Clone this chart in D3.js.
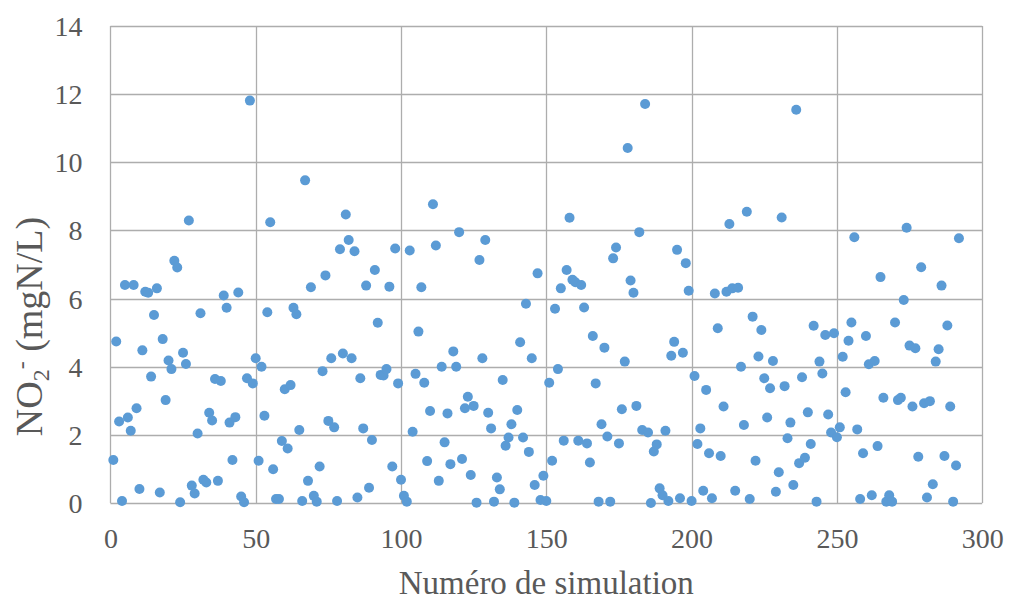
<!DOCTYPE html>
<html>
<head>
<meta charset="utf-8">
<script src="https://cdn.jsdelivr.net/npm/d3@7"></script>
<style>
  html, body { margin: 0; padding: 0; background: #ffffff; }
  svg { display: block; }
</style>
</head>
<body>
<svg id="chart" width="1011" height="601"></svg>
<script>
// ---- Data ----
const no2Values = [
  1.26, 4.74, 2.39, 0.06, 6.40, 2.51, 2.12, 6.40, 2.78, 0.41,
  4.48, 6.20, 6.17, 3.71, 5.52, 6.30, 0.31, 4.81, 3.02, 4.18,
  3.93, 7.11, 6.91, 0.02, 4.41, 4.08, 8.29, 0.51, 0.28, 2.04,
  5.57, 0.68, 0.60, 2.65, 2.42, 3.64, 0.65, 3.58, 6.09, 5.73,
  2.36, 1.26, 2.52, 6.18, 0.19, 0.02, 3.66, 11.81, 3.51, 4.25,
  1.24, 4.00, 2.56, 5.60, 8.24, 0.99, 0.12, 0.12, 1.82, 3.34,
  1.60, 3.46, 5.73, 5.54, 2.14, 0.06, 9.47, 0.65, 6.33, 0.21,
  0.04, 1.07, 3.87, 6.68, 2.41, 4.25, 2.22, 0.06, 7.45, 4.39,
  8.47, 7.72, 4.25, 7.39, 0.16, 3.66, 2.19, 6.38, 0.45, 1.85,
  6.84, 5.29, 3.76, 3.74, 3.93, 6.35, 1.07, 7.47, 3.51, 0.68,
  0.21, 0.04, 7.41, 2.09, 3.79, 5.03, 6.33, 3.53, 1.23, 2.70,
  8.77, 7.56, 0.65, 4.00, 1.78, 2.63, 1.14, 4.45, 4.00, 7.95,
  1.29, 2.78, 3.12, 0.82, 2.85, 0.01, 7.13, 4.25, 7.72, 2.65,
  2.19, 0.04, 0.75, 0.40, 3.61, 1.68, 1.92, 2.31, 0.01, 2.73,
  4.72, 1.92, 5.85, 1.50, 4.25, 0.53, 6.74, 0.09, 0.80, 0.06,
  3.53, 1.24, 5.70, 3.93, 6.30, 1.83, 6.84, 8.37, 6.55, 6.48,
  1.83, 6.40, 5.74, 1.75, 1.19, 4.90, 3.51, 0.04, 2.31, 4.56,
  1.95, 0.04, 7.18, 7.50, 1.75, 2.75, 4.15, 10.42, 6.53, 6.17,
  2.85, 7.95, 2.14, 11.71, 2.07, 0.00, 1.51, 1.72, 0.43, 0.23,
  2.12, 0.06, 4.32, 4.73, 7.43, 0.14, 4.41, 7.04, 6.23, 0.06,
  3.73, 1.73, 2.19, 0.36, 3.32, 1.46, 0.14, 6.15, 5.13, 1.38,
  2.83, 6.20, 8.19, 6.30, 0.36, 6.32, 4.00, 2.29, 8.55, 0.12,
  5.47, 1.24, 4.30, 5.08, 3.66, 2.51, 3.37, 4.17, 0.33, 0.90,
  8.38, 3.43, 1.90, 2.36, 0.53, 11.54, 1.17, 3.69, 1.33, 2.66,
  1.73, 5.20, 0.04, 4.15, 3.80, 4.93, 2.60, 2.07, 4.98, 1.93,
  2.22, 4.29, 3.25, 4.76, 5.30, 7.80, 2.16, 0.12, 1.46, 4.90,
  4.07, 0.23, 4.17, 1.67, 6.63, 3.09, 0.04, 0.23, 0.04, 5.30,
  3.02, 3.09, 5.96, 8.08, 4.62, 2.83, 4.54, 1.36, 6.92, 2.93,
  0.16, 2.99, 0.55, 4.15, 4.51, 6.38, 1.38, 5.21, 2.83, 0.04,
  1.10, 7.77
];
// simulation number of each value = its position in the run list (1-based)
const simulationNumbers = no2Values.map((v, i) => i + 1);

const xTickValues = [0, 50, 100, 150, 200, 250, 300];
const yTickValues = [0, 2, 4, 6, 8, 10, 12, 14];
const xDomain = [0, 300];
const yDomain = [0, 14];
const xTitle = "Numéro de simulation";

// ---- Layout ----
const margin = { left: 110.4, right: 1011 - 982.2, top: 26, bottom: 601 - 503 };
const W = 1011, H = 601;
const svg = d3.select("#chart");

const x = d3.scaleLinear().domain(xDomain).range([margin.left, W - margin.right]);
const y = d3.scaleLinear().domain(yDomain).range([H - margin.bottom, margin.top]);

const gridColor = "#ADADAD";
const textColor = "#595959";
const fontFam = "'Liberation Serif', 'Times New Roman', serif";

// Horizontal grid lines
svg.append("g")
  .selectAll("line")
  .data(yTickValues)
  .join("line")
  .attr("x1", x(xDomain[0]))
  .attr("x2", x(xDomain[1]))
  .attr("y1", d => Math.round(y(d)) + 0.5)
  .attr("y2", d => Math.round(y(d)) + 0.5)
  .attr("stroke", gridColor)
  .attr("stroke-width", 1.3);

// Vertical grid lines
svg.append("g")
  .selectAll("line")
  .data(xTickValues)
  .join("line")
  .attr("y1", y(yDomain[0]))
  .attr("y2", y(yDomain[1]))
  .attr("x1", d => Math.round(x(d)) + 0.5)
  .attr("x2", d => Math.round(x(d)) + 0.5)
  .attr("stroke", gridColor)
  .attr("stroke-width", 1.3);

// Axes (labels only)
const xAxis = d3.axisBottom(x).tickValues(xTickValues).tickSize(0).tickPadding(26);
const yAxis = d3.axisLeft(y).tickValues(yTickValues).tickSize(0).tickPadding(28);

const gx = svg.append("g")
  .attr("transform", `translate(0,${y(0)})`)
  .call(xAxis);
gx.select(".domain").remove();
gx.selectAll("text")
  .attr("font-family", fontFam)
  .attr("font-size", 28)
  .attr("fill", textColor)
  .attr("dy", "0.68em");

const gy = svg.append("g")
  .attr("transform", `translate(${x(0)},0)`)
  .call(yAxis);
gy.select(".domain").remove();
gy.selectAll("text")
  .attr("font-family", fontFam)
  .attr("font-size", 28)
  .attr("fill", textColor)
  .attr("dy", "0.34em");

// Points
svg.append("g")
  .selectAll("circle")
  .data(no2Values.map((v, i) => ({ n: simulationNumbers[i], v })))
  .join("circle")
  .attr("cx", d => x(d.n))
  .attr("cy", d => y(d.v))
  .attr("r", 5)
  .attr("fill", "#5B9BD5");

// X title
svg.append("text")
  .attr("x", (x(xDomain[0]) + x(xDomain[1])) / 2)
  .attr("y", 594)
  .attr("text-anchor", "middle")
  .attr("font-family", fontFam)
  .attr("font-size", 33)
  .attr("fill", textColor)
  .text(xTitle);

// Y title with subscript / superscript
const yt = svg.append("text")
  .attr("transform", `translate(42,${(y(0) + y(14)) / 2 + 62}) rotate(-90)`)
  .attr("text-anchor", "middle")
  .attr("font-family", fontFam)
  .attr("font-size", 38)
  .attr("fill", textColor);
yt.append("tspan").text("NO");
yt.append("tspan").attr("font-size", 24).attr("dy", 7).text("2");
yt.append("tspan").attr("font-size", 24).attr("dy", -20).text("-");
yt.append("tspan").attr("dy", 13).text(" (mgN/L)");
</script>
</body>
</html>
